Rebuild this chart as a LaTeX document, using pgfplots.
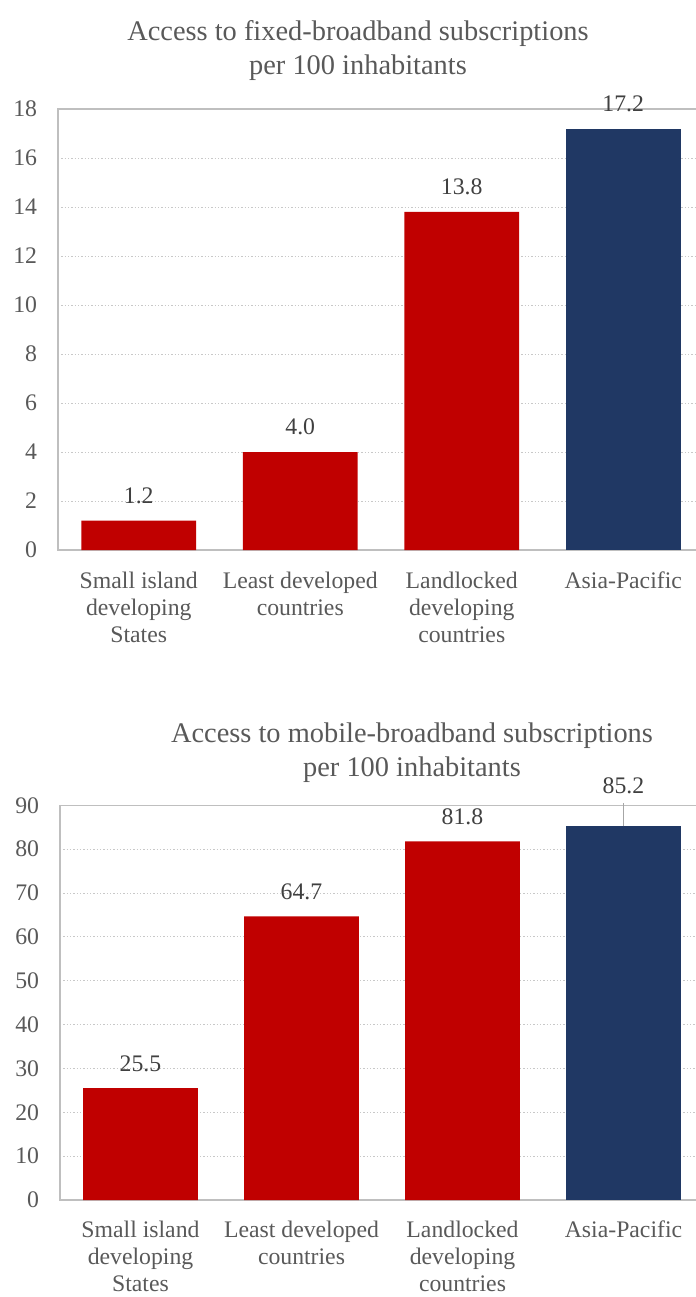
\documentclass[border=0pt]{standalone}
\usepackage{fontspec}
\setmainfont{Liberation Serif}
\usepackage{pgfplots}
\pgfplotsset{compat=1.18}
\definecolor{barred}{HTML}{C00000}
\definecolor{barblue}{HTML}{203864}
\definecolor{txtgray}{HTML}{595959}
\definecolor{lblgray}{HTML}{404040}
\definecolor{axgray}{HTML}{BFBFBF}
\definecolor{gridgray}{HTML}{C8C8C8}
\definecolor{leadgray}{HTML}{A6A6A6}
\newcommand\lbl{\fontsize{17.8}{20.3}\selectfont}
\newcommand\ttl{\fontsize{21.3}{25}\selectfont}
\pgfplotsset{mybars/.style={
  scale only axis, anchor=south west,
  xmin=-0.5, xmax=3.5, ymin=0,
  xtick={0,1,2,3},
  xticklabels={{Small island\\developing\\States},{Least developed\\countries},{Landlocked\\developing\\countries},{Asia-Pacific}},
  xticklabel style={align=center, inner sep=0pt, yshift=-16.4pt, font=\lbl, text=txtgray},
  yticklabel style={inner sep=0pt, xshift=-15.5pt, font=\lbl, text=txtgray},
  /pgf/number format/assume math mode=true,
  major tick length=0pt,
  ymajorgrids, grid style={gridgray, line width=0.75pt, dash pattern=on 1.1pt off 1.4pt},
  axis line style={axgray, line width=1.1pt},
  ybar, bar width=0.712, bar shift=0pt,
  clip=false,
  nodes near coords={\pgfmathprintnumber[fixed,fixed zerofill,precision=1]{\pgfplotspointmeta}},
  every node near coord/.style={anchor=south, inner sep=0pt, yshift=12.4pt, font=\lbl, text=lblgray},
}}
\begin{document}
\begin{tikzpicture}
\useasboundingbox (0,0) rectangle (522pt,-972.75pt);
\clip (0,0) rectangle (522pt,-972.75pt);
\node[anchor=base, font=\ttl, text=txtgray] at (268.5pt,-30pt) {Access to fixed-broadband subscriptions};
\node[anchor=base, font=\ttl, text=txtgray] at (268.5pt,-55.5pt) {per 100 inhabitants};
\node[anchor=base, font=\ttl, text=txtgray] at (309pt,-557pt) {Access to mobile-broadband subscriptions};
\node[anchor=base, font=\ttl, text=txtgray] at (309pt,-582.5pt) {per 100 inhabitants};
\begin{axis}[mybars, at={(43.5pt,-412.5pt)}, width=484.5pt, height=330.75pt,
  ymax=18, ytick={0,2,...,18}]
\addplot[fill=barred, draw=none] coordinates {(0,1.2) (1,4.0) (2,13.8)};
\addplot[fill=barblue, draw=none] coordinates {(3,17.2)};
\end{axis}
\begin{axis}[mybars, at={(45pt,-900pt)}, width=483pt, height=296pt,
  ymax=90, ytick={0,10,...,90},
  xticklabel style={yshift=1pt}]
\addplot[fill=barred, draw=none] coordinates {(0,25.5) (1,64.7) (2,81.8)};
\addplot[fill=barblue, draw=none, every node near coord/.append style={yshift=11.6pt}] coordinates {(3,85.2)};
\draw[leadgray, line width=0.75pt] (axis cs:3,85.2) -- ++(0pt,17.25pt);
\end{axis}
\end{tikzpicture}
\end{document}
